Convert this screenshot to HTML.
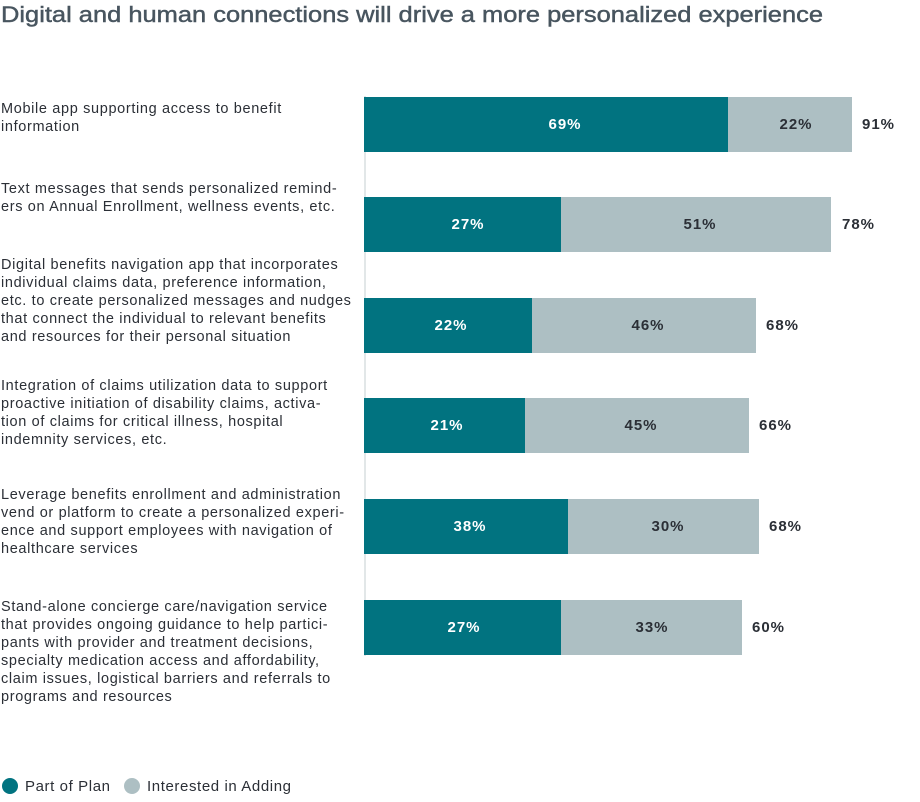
<!DOCTYPE html>
<html><head><meta charset="utf-8"><style>
html,body{margin:0;padding:0;background:#fff}
svg{display:block;font-family:"Liberation Sans",Arial,sans-serif}
.l{font-size:14.5px;fill:#2b2f36;letter-spacing:0.65px}
.w{font-size:15px;font-weight:bold;fill:#fff;text-anchor:middle;letter-spacing:1px}
.d{font-size:15px;font-weight:bold;fill:#2b2f36;text-anchor:middle;letter-spacing:1px}
.t{font-size:15px;font-weight:bold;fill:#2b2f36;letter-spacing:1px}
</style></head><body>
<svg width="920" height="802" viewBox="0 0 920 802">
<text x="1" y="22" font-size="22" fill="#48555f" stroke="#48555f" stroke-width="0.45" textLength="822" lengthAdjust="spacingAndGlyphs">Digital and human connections will drive a more personalized experience</text>
<line x1="365" y1="96" x2="365" y2="656" stroke="#c5cfd2" stroke-width="1"/>
<g>
<rect x="364" y="97" width="364" height="55" fill="#017380"/><rect x="728" y="97" width="124" height="55" fill="#adbfc3"/>
<text class="w" x="565" y="129">69%</text><text class="d" x="796" y="129">22%</text><text class="t" x="862" y="129">91%</text>
<rect x="364" y="197" width="197" height="55" fill="#017380"/><rect x="561" y="197" width="270" height="55" fill="#adbfc3"/>
<text class="w" x="468" y="229">27%</text><text class="d" x="700" y="229">51%</text><text class="t" x="842" y="229">78%</text>
<rect x="364" y="298" width="168" height="55" fill="#017380"/><rect x="532" y="298" width="224" height="55" fill="#adbfc3"/>
<text class="w" x="451" y="330">22%</text><text class="d" x="648" y="330">46%</text><text class="t" x="766" y="330">68%</text>
<rect x="364" y="398" width="161" height="55" fill="#017380"/><rect x="525" y="398" width="224" height="55" fill="#adbfc3"/>
<text class="w" x="447" y="430">21%</text><text class="d" x="641" y="430">45%</text><text class="t" x="759" y="430">66%</text>
<rect x="364" y="499" width="204" height="55" fill="#017380"/><rect x="568" y="499" width="191" height="55" fill="#adbfc3"/>
<text class="w" x="470" y="531">38%</text><text class="d" x="668" y="531">30%</text><text class="t" x="769" y="531">68%</text>
<rect x="364" y="600" width="197" height="55" fill="#017380"/><rect x="561" y="600" width="181" height="55" fill="#adbfc3"/>
<text class="w" x="464" y="632">27%</text><text class="d" x="652" y="632">33%</text><text class="t" x="752" y="632">60%</text>
</g>
<g>
<text class="l" x="1" y="113">Mobile app supporting access to benefit</text>
<text class="l" x="1" y="131">information</text>
<text class="l" x="1" y="193">Text messages that sends personalized remind-</text>
<text class="l" x="1" y="211">ers on Annual Enrollment, wellness events, etc.</text>
<text class="l" x="1" y="269">Digital benefits navigation app that incorporates</text>
<text class="l" x="1" y="287">individual claims data, preference information,</text>
<text class="l" x="1" y="305">etc. to create personalized messages and nudges</text>
<text class="l" x="1" y="323">that connect the individual to relevant benefits</text>
<text class="l" x="1" y="341">and resources for their personal situation</text>
<text class="l" x="1" y="390">Integration of claims utilization data to support</text>
<text class="l" x="1" y="408">proactive initiation of disability claims, activa-</text>
<text class="l" x="1" y="426">tion of claims for critical illness, hospital</text>
<text class="l" x="1" y="444">indemnity services, etc.</text>
<text class="l" x="1" y="499">Leverage benefits enrollment and administration</text>
<text class="l" x="1" y="517">vend or platform to create a personalized experi-</text>
<text class="l" x="1" y="535">ence and support employees with navigation of</text>
<text class="l" x="1" y="553">healthcare services</text>
<text class="l" x="1" y="611">Stand-alone concierge care/navigation service</text>
<text class="l" x="1" y="629">that provides ongoing guidance to help partici-</text>
<text class="l" x="1" y="647">pants with provider and treatment decisions,</text>
<text class="l" x="1" y="665">specialty medication access and affordability,</text>
<text class="l" x="1" y="683">claim issues, logistical barriers and referrals to</text>
<text class="l" x="1" y="701">programs and resources</text>
</g>
<circle cx="10" cy="786" r="8" fill="#017380"/>
<text x="25" y="791" font-size="15" fill="#2b2f36" letter-spacing="0.6">Part of Plan</text>
<circle cx="132" cy="786" r="8" fill="#adbfc3"/>
<text x="147" y="791" font-size="15" fill="#2b2f36" letter-spacing="0.6">Interested in Adding</text>
</svg>
</body></html>
